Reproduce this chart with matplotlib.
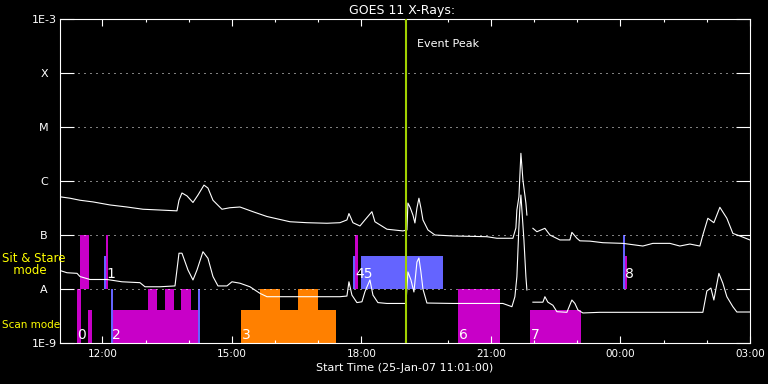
import matplotlib
matplotlib.use('Agg')
import matplotlib.pyplot as plt
import numpy as np

# times are hours since 25-Jan-07 00:00
t_start = 11 + 1 / 60
t_end = 27.0
event_peak = 19.04

# GOES 11 long channel (1-8 A)
long_time = [11.017, 11.248, 11.480, 11.781, 12.175, 12.568, 12.939, 13.333, 13.726, 13.773,
             13.842, 13.958, 14.097, 14.213, 14.352, 14.444, 14.560, 14.768, 14.954, 15.185,
             15.487, 15.811, 16.343, 16.737, 17.200, 17.501, 17.663, 17.710, 17.802, 17.965,
             18.080, 18.242, 18.312, 18.590, 18.960, 19.053, 19.076, 19.123, 19.192, 19.238,
             19.285, 19.331, 19.377, 19.424, 19.540, 19.702, 20.119, 20.906, 21.137, 21.508,
             21.577, 21.600, 21.647, 21.693, 21.740, 21.809, 21.832, 21.900, 21.971, 22.064,
             22.249, 22.365, 22.596, 22.828, 22.874, 22.990, 23.059, 23.291, 23.592, 24.055,
             24.518, 24.750, 25.144, 25.375, 25.607, 25.839, 25.908, 26.024, 26.163, 26.302,
             26.464, 26.603, 26.765, 26.997]
long_flux = [5.1e-7, 4.8e-7, 4.4e-7, 4.1e-7, 3.6e-7, 3.3e-7, 3.0e-7, 2.9e-7, 2.8e-7, 4.4e-7,
             6.0e-7, 5.3e-7, 4.0e-7, 5.5e-7, 8.4e-7, 7.4e-7, 4.4e-7, 3.0e-7, 3.2e-7, 3.3e-7,
             2.7e-7, 2.2e-7, 1.76e-7, 1.69e-7, 1.65e-7, 1.69e-7, 1.9e-7, 2.5e-7, 1.69e-7, 1.47e-7,
             1.9e-7, 2.7e-7, 1.76e-7, 1.28e-7, 1.19e-7, 1.24e-7, 3.9e-7, 3.3e-7, 2.34e-7, 1.67e-7,
             3.16e-7, 4.8e-7, 3.16e-7, 1.9e-7, 1.24e-7, 1.0e-7, 9.6e-8, 9.3e-8, 8.7e-8, 8.7e-8,
             1.35e-7, 2.9e-7, 5.1e-7, 3.26e-6, 1.04e-6, 3.9e-7, 2.34e-7, np.nan, 1.33e-7, 1.15e-7,
             1.33e-7, 1.0e-7, 8.1e-8, 8.1e-8, 1.12e-7, 8.7e-8, 7.8e-8, 7.7e-8, 7.2e-8, 7.0e-8,
             6.25e-8, 7.0e-8, 7.0e-8, 6.25e-8, 6.8e-8, 6.25e-8, 1.0e-7, 2.04e-7, 1.69e-7, 3.26e-7,
             2.04e-7, 1.07e-7, 9.6e-8, 8.1e-8]

# GOES 11 short channel (0.5-4 A)
short_time = [11.017, 11.179, 11.411, 11.480, 11.712, 12.105, 12.453, 12.869, 12.985, 13.333,
              13.680, 13.773, 13.842, 13.981, 14.097, 14.190, 14.328, 14.444, 14.560, 14.676,
              14.884, 15.000, 15.185, 15.417, 15.649, 15.811, 17.501, 17.663, 17.710, 17.779,
              17.895, 18.011, 18.080, 18.196, 18.266, 18.381, 18.590, 19.030, 19.076, 19.146,
              19.215, 19.285, 19.331, 19.377, 19.424, 19.516, 20.119, 21.276, 21.485, 21.554,
              21.600, 21.647, 21.670, 21.693, 21.763, 21.809, 21.832, 21.900, 21.971, 22.203,
              22.249, 22.318, 22.434, 22.527, 22.758, 22.874, 22.944, 23.013, 23.129, 23.523,
              25.908, 26.001, 26.094, 26.163, 26.279, 26.371, 26.464, 26.603, 26.696, 26.997]
short_flux = [2.2e-8, 2.0e-8, 1.95e-8, 1.7e-8, 1.5e-8, 1.5e-8, 1.36e-8, 1.31e-8, 1.1e-8, 1.1e-8,
              1.14e-8, 4.6e-8, 4.6e-8, 2.25e-8, 1.47e-8, 2.25e-8, 4.9e-8, 3.7e-8, 1.7e-8, 1.14e-8,
              1.14e-8, 1.36e-8, 1.28e-8, 1.1e-8, 8.3e-9, 7.2e-9, 7.2e-9, 7.4e-9, 1.36e-8, 7.7e-9,
              5.6e-9, 5.8e-9, 8.9e-9, 1.47e-8, 7.7e-9, 5.6e-9, 5.4e-9, 5.4e-9, 2.07e-8, 1.47e-8,
              8.8e-9, 3.16e-8, 3.75e-8, 2.07e-8, 1.0e-8, 5.5e-9, 5.4e-9, 5.4e-9, 4.7e-9, 7.2e-9,
              1.69e-8, 1.43e-7, 3.3e-7, 5.5e-7, 8.1e-8, 1.69e-8, 9.6e-9, np.nan, 5.7e-9, 5.7e-9,
              7.2e-9, 5.7e-9, 5.0e-9, 3.8e-9, 3.7e-9, 6.25e-9, 5.4e-9, 4.1e-9, 3.6e-9, 3.7e-9,
              3.7e-9, 9.2e-9, 1.04e-8, 6.25e-9, 1.95e-8, 1.28e-8, 7.2e-9, 4.7e-9, 3.75e-9, 3.75e-9]

# observation blocks, scan mode (band 1E-9..A)
scan_start = [11.417, 11.658, 12.198, 12.237, 13.048, 13.448, 13.812, 14.213, 15.208, 15.649, 16.529, 20.234, 21.901]
scan_end = [11.503, 11.758, 12.237, 14.213, 13.263, 13.657, 14.051, 14.252, 17.409, 16.112, 16.992, 21.200, 23.076]
scan_top = [1e-8, 4.1e-9, 1e-8, 4.1e-9, 1e-8, 1e-8, 1e-8, 1e-8, 4.1e-9, 1e-8, 1e-8, 1e-8, 4.1e-9]
scan_kind = ['p', 'p', 'b', 'p', 'p', 'p', 'p', 'b', 'o', 'o', 'o', 'p', 'p']

# sit & stare blocks (band A..B)
stare_start = [11.480, 12.036, 12.082, 17.795, 17.849, 17.981, 24.062, 24.109]
stare_end = [11.688, 12.075, 12.121, 17.849, 17.911, 19.887, 24.109, 24.148]
stare_top = [1e-7, 4.1e-8, 1e-7, 4.1e-8, 1e-7, 4.1e-8, 1e-7, 4.1e-8]
stare_kind = ['p', 'b', 'p', 'b', 'p', 'b', 'b', 'p']

label_text = ['0', '1', '2', '3', '45', '6', '7', '8']
label_time = [11.417, 12.093, 12.221, 15.225, 17.856, 20.264, 21.925, 24.102]
label_band = ['scan', 'stare', 'scan', 'scan', 'stare', 'scan', 'scan', 'stare']

y_levels = [1e-9, 1e-8, 1e-7, 1e-6, 1e-5, 1e-4, 1e-3]
y_labels = ['1E-9', 'A', 'B', 'C', 'M', 'X', '1E-3']
x_major = [12, 15, 18, 21, 24, 27]
x_labels = ['12:00', '15:00', '18:00', '21:00', '00:00', '03:00']

colors = {'p': '#c800c8', 'b': '#6464ff', 'o': '#ff8000'}

fig = plt.figure(figsize=(7.68, 3.84), dpi=100, facecolor='black')
ax = fig.add_axes([60 / 768, 41 / 384, 690 / 768, 324 / 384])
ax.set_facecolor('black')
ax.set_yscale('log')
ax.set_xlim(t_start, t_end)
ax.set_ylim(1e-9, 1e-3)

for s, e, top, k in zip(scan_start, scan_end, scan_top, scan_kind):
    ax.bar(s, top - 1e-9, width=e - s, bottom=1e-9, align='edge', color=colors[k], linewidth=0, zorder=1)
for s, e, top, k in zip(stare_start, stare_end, stare_top, stare_kind):
    ax.bar(s, top - 1e-8, width=e - s, bottom=1e-8, align='edge', color=colors[k], linewidth=0, zorder=1)

for lev in y_levels[1:-1]:
    ax.axhline(lev, color='white', lw=0.72, linestyle=(0, (1, 5)), zorder=2)

ax.plot(long_time, long_flux, color='white', lw=0.8, zorder=3)
ax.plot(short_time, short_flux, color='white', lw=0.8, zorder=3)

label_base = {'scan': 1.2e-9, 'stare': 1.6e-8}
for txt, t, band in zip(label_text, label_time, label_band):
    ax.text(t, label_base[band], txt, color='white', fontsize=10, va='baseline', ha='left', zorder=4)

ax.axvline(event_peak, color='#a0d000', lw=1.5, zorder=5)
ax.annotate('Event Peak', xy=(event_peak, 1), xycoords=('data', 'axes fraction'),
            xytext=(8, -20), textcoords='offset points', color='white', fontsize=8,
            va='baseline', ha='left')

for sp in ax.spines.values():
    sp.set_color('white')
    sp.set_linewidth(0.8)

ax.set_yticks(y_levels)
ax.set_yticklabels(y_labels)
ax.yaxis.set_minor_locator(matplotlib.ticker.NullLocator())
ax.tick_params(axis='y', which='major', direction='in', length=10, width=0.8, color='white',
               labelcolor='white', labelsize=8, right=True, pad=11.5)
for lab in ax.get_yticklabels():
    lab.set_horizontalalignment('center')

ax.set_xticks(x_major)
ax.set_xticklabels(x_labels)
ax.set_xticks(np.arange(12, 27), minor=True)
ax.tick_params(axis='x', which='major', direction='in', length=5, width=0.8, color='white',
               labelcolor='white', labelsize=7.5, top=True, pad=4)
ax.tick_params(axis='x', which='minor', direction='in', length=2.5, width=0.8, color='white', top=True)

fig.text(402 / 768, 1 - 14 / 384, 'GOES 11 X-Rays:', color='white', fontsize=9, ha='center', va='baseline')
fig.text(404.5 / 768, 1 - 371 / 384, 'Start Time (25-Jan-07 11:01:00)', color='white', fontsize=8,
         ha='center', va='baseline')
fig.text(2 / 768, 1 - 252 / 384, 'Sit & Stare\n   mode', color='yellow', fontsize=8.5,
         va='top', ha='left', multialignment='left', linespacing=0.85)
fig.text(2 / 768, 1 - 328 / 384, 'Scan mode', color='yellow', fontsize=7.5, va='baseline')

fig.savefig('out.png', dpi=100, facecolor='black')
